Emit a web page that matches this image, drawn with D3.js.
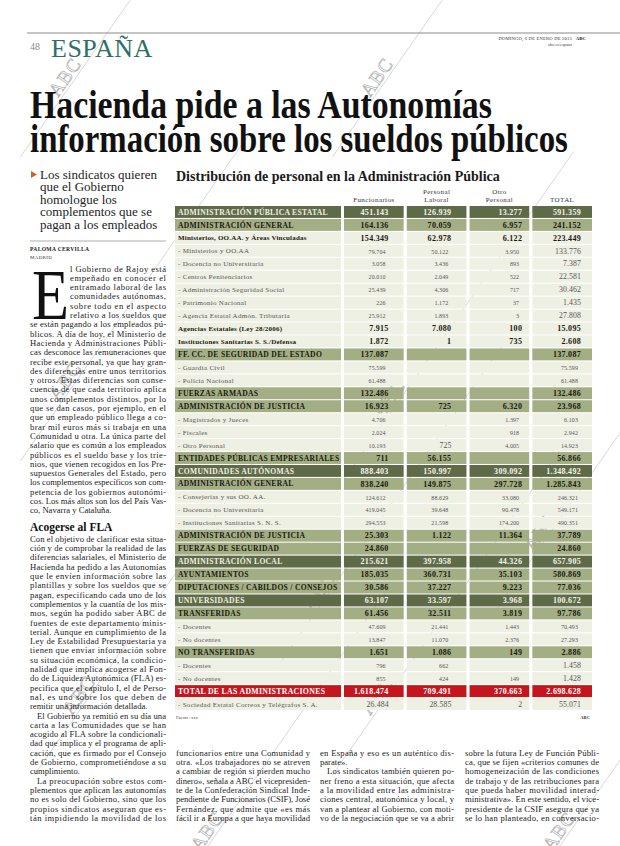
<!DOCTYPE html>
<html><head><meta charset="utf-8">
<script src="https://cdn.jsdelivr.net/npm/d3@7"></script>
<style>body{margin:0;background:#fff}svg{display:block}</style>
</head><body>
<script>
// ---------- DATA ----------
const rowLabels = [
  "ADMINISTRACIÓN PÚBLICA ESTATAL","ADMINISTRACIÓN GENERAL","Ministerios, OO.AA. y Áreas Vinculadas",
  "- Ministerios y OO.AA","- Docencia no Universitaria","- Centros Penitenciarios",
  "- Administración Seguridad Social","- Patrimonio Nacional","- Agencia Estatal Admón. Tributaria",
  "Agencias Estatales (Ley 28/2006)","Instituciones Sanitarias S. S./Defensa","FF. CC. DE SEGURIDAD DEL ESTADO",
  "- Guardia Civil","- Policía Nacional","FUERZAS ARMADAS","ADMINISTRACIÓN DE JUSTICIA",
  "- Magistrados y Jueces","- Fiscales","- Otro Personal","ENTIDADES PÚBLICAS EMPRESARIALES",
  "COMUNIDADES AUTÓNOMAS","ADMINISTRACIÓN GENERAL","- Consejerías y sus OO. AA.",
  "- Docencia no Universitaria","- Instituciones Sanitarias S. N. S.","ADMINISTRACIÓN DE JUSTICIA",
  "FUERZAS DE SEGURIDAD","ADMINISTRACIÓN LOCAL","AYUNTAMIENTOS","DIPUTACIONES / CABILDOS / CONSEJOS",
  "UNIVERSIDADES","TRANSFERIDAS","- Docentes","- No docentes","NO TRANSFERIDAS","- Docentes",
  "- No docentes","TOTAL DE LAS ADMINISTRACIONES","- Sociedad Estatal Correos y Telégrafos S. A."
];
const rowTypes = [
  "group","section","subsection","item","item","item","item","item","item",
  "subsection","subsection","section","item","item","section","section",
  "item","item","item","section","group","section","item","item","item","section",
  "section","group","section","section","group","section","item","item","section","item",
  "item","total","item"
];
const funcionarios = [451143,164136,154349,79704,3058,20010,25439,226,25912,7915,1872,137087,75599,61488,132486,16923,4706,2024,10193,711,888403,838240,124612,419045,294553,25303,24860,215621,185035,30586,63107,61456,47609,13847,1651,796,855,1618474,26484];
const personalLaboral = [126939,70059,62978,50122,3436,2049,4306,1172,1893,7080,1,null,null,null,null,725,null,null,725,56155,150997,149875,88629,39648,21598,1122,null,397958,360731,37227,33597,32511,21441,11070,1086,662,424,709491,28585];
const otroPersonal = [13277,6957,6122,3950,893,522,717,37,3,100,735,null,null,null,null,6320,1397,918,4005,null,309092,297728,33080,90478,174200,11364,null,44326,35103,9223,3968,3819,1443,2376,149,null,149,370663,2];
const totalPersonal = [591359,241152,223449,133776,7387,22581,30462,1435,27808,15095,2608,137087,75599,61488,132486,23968,6103,2942,14923,56866,1348492,1285843,246321,549171,490351,37789,24860,657905,580869,77036,100672,97786,70493,27293,2886,1458,1428,2698628,55071];
const columnHeaders = [["Funcionarios"],["Personal","Laboral"],["Otro","Personal"],["TOTAL"]];

const headline = ["Hacienda pide a las Autonomías","información sobre los sueldos públicos"];
const deck = ["Los sindicatos quieren","que el Gobierno","homologue los","complementos que se","pagan a los empleados"];
const leftParas = [
 ["l Gobierno de Rajoy está","empeñado en conocer el","entramado laboral de las","comunidades autónomas,","sobre todo en el aspecto","relativo a los sueldos que","se están pagando a los empleados pú-","blicos. A día de hoy, el Ministerio de","Hacienda y Administraciones Públi-","cas desconoce las remuneraciones que","recibe este personal, ya que hay gran-","des diferencias entre unos territorios","y otros. Estas diferencias son conse-","cuencia de que cada territorio aplica","unos complementos distintos, por lo","que se dan casos, por ejemplo, en el","que un empleado público llega a co-","brar mil euros más si trabaja en una","Comunidad u otra. La única parte del","salario que es común a los empleados","públicos es el sueldo base y los trie-","nios, que vienen recogidos en los Pre-","supuestos Generales del Estado, pero","los complementos específicos son com-","petencia de los gobiernos autonómi-","cos. Los más altos son los del País Vas-","co, Navarra y Cataluña."],
 ["Con el objetivo de clarificar esta situa-","ción y de comprobar la realidad de las","diferencias salariales, el Ministerio de","Hacienda ha pedido a las Autonomías","que le envíen información sobre las","plantillas y sobre los sueldos que se","pagan, especificando cada uno de los","complementos y la cuantía de los mis-","mos, según ha podido saber ABC de","fuentes de este departamento minis-","terial. Aunque en cumplimiento de la","Ley de Estabilidad Presupuestaria ya","tienen que enviar información sobre","su situación económica, la condicio-","nalidad que implica acogerse al Fon-","do de Liquidez Autonómica (FLA) es-","pecifica que el capítulo I, el de Perso-","nal, es uno sobre los que deben de","remitir una información detallada."],
 ["El Gobierno ya remitió en su día una","carta a las Comunidades que se han","acogido al FLA sobre la condicionali-","dad que implica y el programa de apli-","cación, que es firmado por el Consejo","de Gobierno, comprometiéndose a su","cumplimiento."],
 ["La preocupación sobre estos com-","plementos que aplican las autonomías","no es solo del Gobierno, sino que los","propios sindicatos aseguran que es-","tán impidiendo la movilidad de los"]
];
const col2Lines = ["funcionarios entre una Comunidad y","otra. «Los trabajadores no se atreven","a cambiar de región si pierden mucho","dinero», señala a ABC el vicepresiden-","te de la Confederación Sindical Inde-","pendiente de Funcionarios (CSIF), José","Fernández, que admite que «es más","fácil ir a Europa a que haya movilidad"];
const col3Lines = ["en España y eso es un auténtico dis-","parate».","Los sindicatos también quieren po-","ner freno a esta situación, que afecta","a la movilidad entre las administra-","ciones central, autonómica y local, y","van a plantear al Gobierno, con moti-","vo de la negociación que se va a abrir"];
const col4Lines = ["sobre la futura Ley de Función Públi-","ca, que se fijen «criterios comunes de","homogeneización de las condiciones","de trabajo y de las retribuciones para","que pueda haber movilidad interad-","ministrativa». En este sentido, el vice-","presidente de la CSIF asegura que ya","se lo han planteado, en conversacio-"];

// ---------- DRAW ----------
const W=620,H=846;
const SERIF='"Liberation Serif","Times New Roman",serif';
const svg=d3.select("body").append("svg").attr("width",W).attr("height",H)
  .style("font-family",SERIF);

// text squeezed horizontally to a target width (condensed face)
function fitText(g,x,y,target,t,attrs){
  const el=g.append("text").attr("x",0).attr("y",0).text(t);
  Object.entries(attrs).forEach(([k,v])=>el.attr(k,v));
  const nat=el.node().getComputedTextLength();
  el.attr("transform",`translate(${x},${y}) scale(${target/nat},1)`);
  return el;
}

// watermarks (drawn underneath)
const marks=[[58,98],[370,98],[58,402],[382,420],[533,552],[312,612],[370,716],[72,716],[200,852],[552,852]];
const wm=svg.append("g").attr("pointer-events","none");
marks.forEach(([mx,my])=>{
  const g=wm.append("g").attr("transform",`translate(${mx},${my}) rotate(-55)`);
  g.append("line").attr("x1",-70).attr("x2",330).attr("y1",3).attr("y2",3).attr("stroke","#c4c4c4").attr("stroke-width",0.6);
  g.append("text").attr("x",0).attr("y",0).attr("font-size",19).attr("fill","none")
   .attr("stroke","#b3b3b3").attr("stroke-width",0.7).attr("letter-spacing",1).text("ABC");
});

// header
svg.append("line").attr("x1",27).attr("x2",620).attr("y1",33).attr("y2",33).attr("stroke","#8a8a8a").attr("stroke-width",1);
svg.append("text").attr("x",30).attr("y",50).attr("font-size",10).attr("fill","#8a8a8a").text("48");
svg.append("text").attr("x",51).attr("y",57).attr("font-size",26).attr("fill","#2f6f69").attr("letter-spacing",0.5).text("ESPAÑA");
svg.append("text").attr("x",572).attr("y",40).attr("font-size",4.6).attr("text-anchor","end").attr("fill","#333").attr("letter-spacing",0.2).text("DOMINGO, 6 DE ENERO DE 2013");
svg.append("text").attr("x",586).attr("y",40).attr("font-size",4.8).attr("font-weight","bold").attr("text-anchor","end").attr("fill","#222").text("ABC");
svg.append("text").attr("x",572).attr("y",46).attr("font-size",4.4).attr("text-anchor","end").attr("fill","#444").text("abc.es/espana");

// headline
const hlWidths=[462,538];
headline.forEach((t,i)=>{
  fitText(svg,30,118+i*34,hlWidths[i],t,{"font-size":40,"font-weight":"bold","fill":"#111"});
});

// deck
svg.append("path").attr("d","M31,171 L37,174.5 L31,178 Z").attr("fill","#d4602e");
deck.forEach((t,i)=>{
  svg.append("text").attr("x",40).attr("y",179+i*12.4).attr("font-size",13).attr("fill","#222").text(t);
});
svg.append("line").attr("x1",30).attr("x2",166).attr("y1",241).attr("y2",241).attr("stroke","#999").attr("stroke-width",0.8);
svg.append("text").attr("x",30).attr("y",250.5).attr("font-size",5.6).attr("font-weight","bold").attr("letter-spacing",0.3).attr("fill","#222").text("PALOMA CERVILLA");
svg.append("text").attr("x",30).attr("y",259).attr("font-size",5).attr("letter-spacing",0.3).attr("fill","#333").text("MADRID");

// body text helper
const BODY=8.6, LH=9.3;
function line(g,x,y,w,t,justify,indent){
  const el=g.append("text").attr("x",x+(indent||0)).attr("y",y).attr("font-size",BODY).attr("fill","#222").text(t);
  if(justify) el.attr("textLength",w-(indent||0)).attr("lengthAdjust","spacing");
  return el;
}
const body=svg.append("g");
const LX=30, LW=136;
const firstBase=271.5;
let y=firstBase;
fitText(svg,32,firstBase+5*LH+0.5,37,"E",{"font-size":72,"fill":"#111"});
leftParas[0].forEach((t,i)=>{
  const ind = i<6 ? 40 : 0;
  line(body,LX,y,LW,t,i<leftParas[0].length-1,ind); y+=LH;
});
y+=8.4;
svg.append("text").attr("x",30).attr("y",y).attr("font-size",11.5).attr("font-weight","bold").attr("fill","#111").text("Acogerse al FLA");
y+=10.8;
const leftLineY=[];
[1,2,3].forEach(p=>{
  leftParas[p].forEach((t,i)=>{
    const last = i===leftParas[p].length-1 && p!==3;
    leftLineY.push(y);
    line(body,LX,y,LW,t,!last,(i===0&&p>1)?7:0); y+=LH;
  });
});
// bottom columns aligned with left column lines 51-58
const bottomTop = leftLineY[leftLineY.length-8];
[[176,col2Lines,[]],[320,col3Lines,[1]],[465,col4Lines,[]]].forEach(([x,lines,ends])=>{
  lines.forEach((t,i)=>{
    const indent = (x===320 && i===2)?7:0;
    line(body,x,bottomTop+i*LH,134,t,!ends.includes(i),indent);
  });
});

// ---------- TABLE ----------
const tX0=175, tX1=341;
fitText(svg,176,181,324,"Distribución de personal en la Administración Pública",
  {"font-size":14,"font-weight":"bold","fill":"#1a1a1a"});

const colKeys=["func","lab","otro","tot"];
const colData={func:funcionarios,lab:personalLaboral,otro:otroPersonal,tot:totalPersonal};
const x=d3.scaleBand().domain(colKeys).range([344,592]).paddingInner(0.05);
const yS=d3.scaleBand().domain(d3.range(rowLabels.length)).range([206,710]).paddingInner(0.08);
const fmt=d3.formatLocale({decimal:",",thousands:".",grouping:[3],currency:["","€"]}).format(",d");

colKeys.forEach((k,i)=>{
  columnHeaders[i].forEach((t,j,arr)=>{
    svg.append("text").attr("x",x(k)+x.bandwidth()/2).attr("y",202-(arr.length-1-j)*8.5)
      .attr("text-anchor","middle").attr("font-size",7).attr("letter-spacing",0.4).attr("fill","#333").text(t);
  });
});

const style={
  group:{bg:"#5f6a48",fg:"#eef0e2",numFg:"#f3f4ea",weight:"bold",size:7.6,ls:0.3,num:8},
  section:{bg:"#a4ae84",fg:"#1a1a12",numFg:"#1a1a12",weight:"bold",size:7.6,ls:0.3,num:8},
  subsection:{bg:"#eff0e4",fg:"#1a1a12",numFg:"#1a1a12",weight:"bold",size:7,ls:0.2,num:8},
  item:{bg:"#eff0e4",fg:"#555",numFg:"#555",weight:"normal",size:7,ls:0.3,num:6},
  total:{bg:"#c5161d",fg:"#fff",numFg:"#fff",weight:"bold",size:7.8,ls:0.3,num:8}
};
const bigCells=new Set(["3-tot","4-tot","5-tot","6-tot","7-tot","8-tot","18-lab","35-tot","36-tot","38-func","38-lab","38-otro","38-tot"]);
const pad={func:15,lab:15,otro:7,tot:11};

const rows=svg.append("g").selectAll("g").data(rowLabels.map((l,i)=>({l,i,t:rowTypes[i]}))).join("g");
rows.append("rect").attr("x",tX0).attr("width",tX1-tX0).attr("y",d=>yS(d.i)).attr("height",yS.bandwidth())
  .attr("fill",d=>style[d.t].bg);
rows.append("text").attr("x",tX0+3).attr("y",d=>yS(d.i)+yS.bandwidth()/2+2.6)
  .attr("font-size",d=>style[d.t].size).attr("font-weight",d=>style[d.t].weight)
  .attr("letter-spacing",d=>style[d.t].ls).attr("fill",d=>style[d.t].fg).text(d=>d.l);
colKeys.forEach(k=>{
  rows.append("rect").attr("x",x(k)).attr("width",x.bandwidth()).attr("y",d=>yS(d.i)).attr("height",yS.bandwidth())
    .attr("fill",d=>style[d.t].bg);
  rows.filter(d=>colData[k][d.i]!=null).append("text")
    .attr("x",d=>{const big=bigCells.has(d.i+"-"+k); const s=style[d.t];
       return x(k)+x.bandwidth()-pad[k]-((s.num<7&&!big)?3:0);})
    .attr("y",d=>yS(d.i)+yS.bandwidth()/2+2.7)
    .attr("text-anchor","end")
    .attr("font-size",d=>bigCells.has(d.i+"-"+k)?7.8:style[d.t].num)
    .attr("font-weight",d=>style[d.t].weight)
    .attr("letter-spacing",d=>style[d.t].num>7?0.3:0.1)
    .attr("fill",d=>style[d.t].numFg)
    .text(d=>fmt(colData[k][d.i]));
});
const tBottom=yS.range()[1];
svg.append("text").attr("x",176).attr("y",tBottom+9).attr("font-size",4.6).attr("fill","#444").text("Fuente: xxx");
svg.append("text").attr("x",x("tot")+x.bandwidth()-2).attr("y",tBottom+9).attr("font-size",4.6).attr("font-weight","bold").attr("text-anchor","end").attr("fill","#333").text("ABC");
</script>
</body></html>
